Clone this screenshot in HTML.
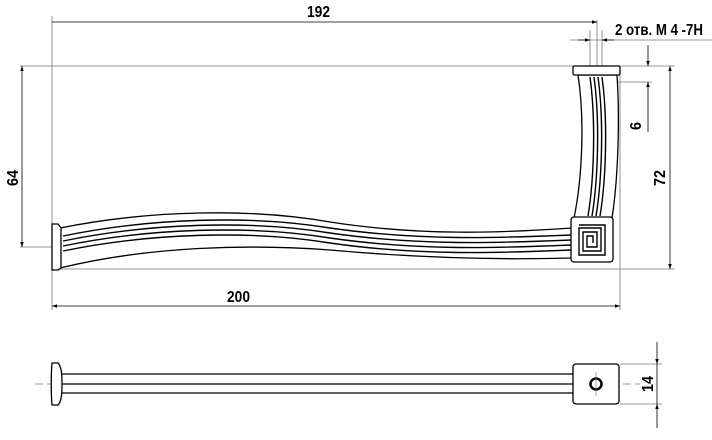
<!DOCTYPE html>
<html><head><meta charset="utf-8"><style>
html,body{margin:0;padding:0;background:#fff}
svg{display:block}
text{font-family:"Liberation Sans",Arial,sans-serif;font-weight:bold;fill:#000}
</style></head><body>
<svg width="712" height="440" viewBox="0 0 712 440" xmlns="http://www.w3.org/2000/svg">
<defs>
<marker id="a" viewBox="0 0 10 10" refX="10" refY="5" markerWidth="10" markerHeight="5" orient="auto-start-reverse" markerUnits="userSpaceOnUse"><path d="M0,1.5 L10,5 L0,8.5 z" fill="#000"/></marker>
</defs>
<g stroke="#777" stroke-width="0.8" fill="none">
<line x1="52" y1="16" x2="52" y2="310"/>
<line x1="20" y1="66" x2="675" y2="66"/>
<line x1="20" y1="247" x2="60" y2="247"/>
<line x1="52" y1="269" x2="675" y2="269"/>
<line x1="620" y1="75" x2="620" y2="310"/>
<line x1="590" y1="30" x2="590" y2="66"/>
<line x1="602" y1="30" x2="602" y2="66"/>
<line x1="597" y1="20" x2="597" y2="66"/>
<line x1="605" y1="82" x2="652" y2="82"/>
<line x1="570" y1="40" x2="712" y2="40"/>
<line x1="620" y1="364" x2="662" y2="364"/>
<line x1="620" y1="404" x2="662" y2="404"/>
</g>
<g stroke="#000" stroke-width="0.8" fill="none">
<line x1="52" y1="22" x2="597" y2="22" marker-end="url(#a)"/>
<line x1="578" y1="40" x2="590" y2="40" marker-end="url(#a)"/>
<line x1="614" y1="40" x2="602" y2="40" marker-end="url(#a)"/>
<line x1="22" y1="66" x2="22" y2="247" marker-start="url(#a)" marker-end="url(#a)"/>
<line x1="648" y1="45" x2="648" y2="66" marker-end="url(#a)"/>
<line x1="648" y1="132" x2="648" y2="82" marker-end="url(#a)"/>
<line x1="670" y1="66" x2="670" y2="269" marker-start="url(#a)" marker-end="url(#a)"/>
<line x1="52" y1="306" x2="620" y2="306" marker-start="url(#a)" marker-end="url(#a)"/>
<line x1="657" y1="342" x2="657" y2="364" marker-end="url(#a)"/>
<line x1="657" y1="428" x2="657" y2="404" marker-end="url(#a)"/>
<line x1="657" y1="364" x2="657" y2="404"/>
</g>
<text x="307" y="17" font-size="16" textLength="23" lengthAdjust="spacingAndGlyphs">192</text>
<text x="615" y="35" font-size="16" textLength="88" lengthAdjust="spacingAndGlyphs">2 отв. M 4 -7H</text>
<text x="227" y="302" font-size="16" textLength="23" lengthAdjust="spacingAndGlyphs">200</text>
<text transform="translate(18,186) rotate(-90)" font-size="16" textLength="16" lengthAdjust="spacingAndGlyphs">64</text>
<text transform="translate(641,130) rotate(-90)" font-size="16" textLength="8" lengthAdjust="spacingAndGlyphs">6</text>
<text transform="translate(665,186) rotate(-90)" font-size="16" textLength="16" lengthAdjust="spacingAndGlyphs">72</text>
<text transform="translate(653,392) rotate(-90)" font-size="16" textLength="16" lengthAdjust="spacingAndGlyphs">14</text>

<g stroke="#000" stroke-width="1.3" fill="#fff">
<path d="M60,228 C150,210 250,208 330,222 C420,236 500,233 572,228 L572,258 C500,260 420,258 330,250 C250,244 150,246 60,268 Z"/>
<path d="M52,224 L58,224 L61,228 L61,268 L58,270 L52,270 Z"/>
<path d="M578,75 C585,120 582,180 574,218 L612,218 C618,180 620,120 617,75 Z"/>
<rect x="573" y="66" width="47" height="9" rx="1.5"/>
<rect x="571" y="217" width="42" height="45" rx="3"/>
</g>
<g stroke="#000" stroke-width="1.4" fill="none">
<path d="M63,236 C150,218 250,215 330,228 C420,241 500,238 571,235"/>
<path d="M63,241 C150,223 250,220 330,233 C420,246 500,243 571,240"/>
<path d="M63,246 C150,228 250,225 330,238 C420,251 500,248 571,245"/>
<path d="M63,251 C150,233 250,230 330,243 C420,256 500,253 571,250"/>
<path d="M590,77 C596,120 594,180 588,216"/>
<path d="M594,77 C600,120 598,180 592,216"/>
<path d="M598,77 C604,120 602,180 596,216"/>
<path d="M602,77 C608,120 606,180 600,216"/>
<path d="M579,225 h26 v30 h-26 v-27 h22 v23 h-18 v-19 h14 v15 h-10 v-11 h6 v7"/>
</g>
<line x1="35" y1="384" x2="640" y2="384" stroke="#777" stroke-width="0.7" stroke-dasharray="8,4"/>
<g stroke="#000" stroke-width="1.3" fill="#fff">
<line x1="62" y1="374" x2="574" y2="374"/>
<line x1="62" y1="384" x2="574" y2="384"/>
<line x1="62" y1="393" x2="574" y2="393"/>
<path d="M52,363 L58,363 C61,366 62,372 62,384 C62,396 61,402 58,405 L52,405 C51,395 51,373 52,363 Z"/>
<rect x="573" y="364" width="46" height="40" rx="3"/>
<circle cx="596" cy="384" r="5.5" stroke-width="2.5"/>
</g>
<line x1="596" y1="372" x2="596" y2="396" stroke="#777" stroke-width="0.7"/>
</svg>
</body></html>
